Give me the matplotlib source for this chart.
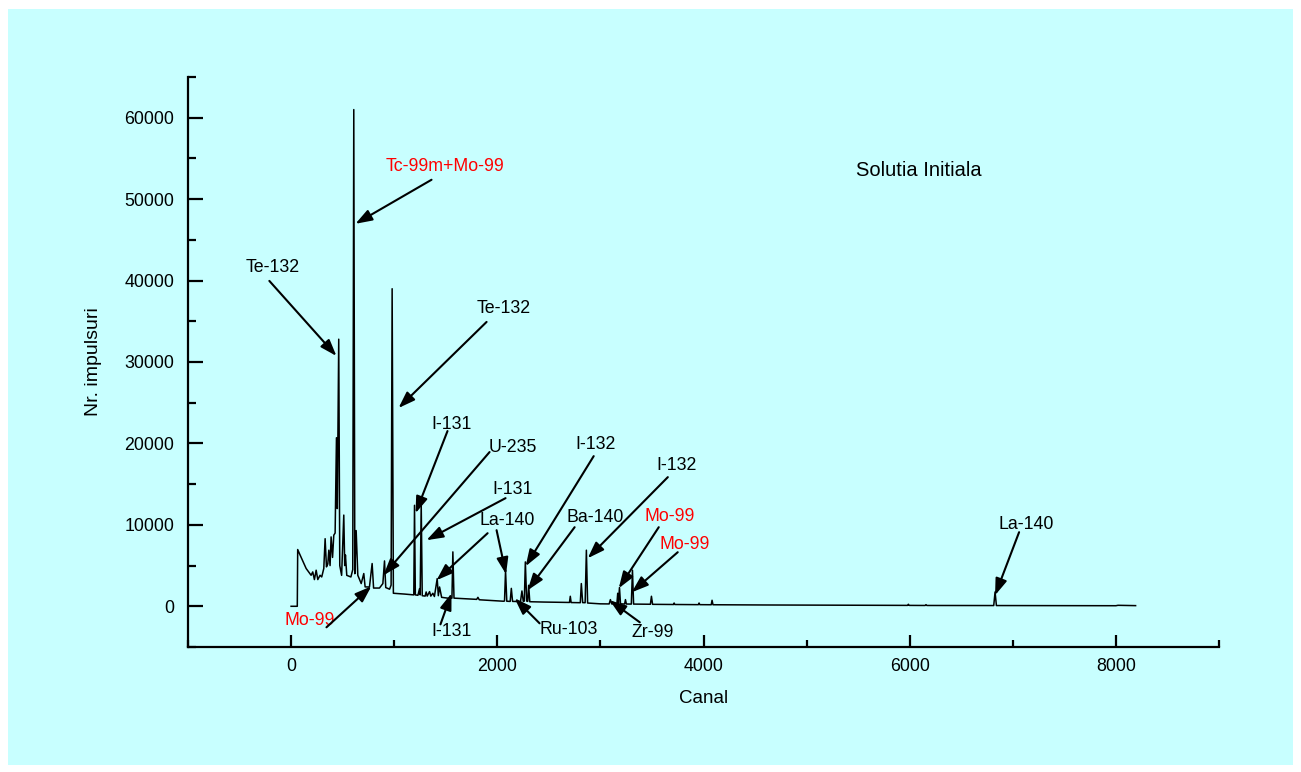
import matplotlib
matplotlib.use("Agg")
import matplotlib.pyplot as plt
from matplotlib.ticker import MultipleLocator
from matplotlib.patches import Rectangle

plt.rcParams['font.family'] = ['Liberation Sans', 'DejaVu Sans']

# ---- spectrum vertices (channel, counts) ----
canal = [0, 60, 64, 80, 103, 146, 194, 210, 226, 243, 259, 281, 297, 317,
         330, 343, 356, 366, 378, 388, 402, 414, 427, 440, 448, 462, 472,
         490, 511, 520, 527, 540, 580, 598, 608, 618, 631, 647, 680, 705,
         718, 760, 786, 800, 857, 890, 906, 918, 955, 970, 980, 992, 1040,
         1100, 1150, 1190, 1197, 1205, 1230, 1246, 1252, 1262, 1272, 1300,
         1310, 1320, 1343, 1355, 1375, 1390, 1417, 1428, 1440, 1460, 1531,
         1560, 1569, 1580, 1650, 1800, 1812, 1825, 1950, 2060, 2070, 2080,
         2092, 2125, 2136, 2148, 2225, 2239, 2252, 2262, 2272, 2285, 2295,
         2304, 2315, 2450, 2700, 2708, 2716, 2805, 2815, 2828, 2852, 2864,
         2876, 3000, 3085, 3097, 3110, 3160, 3168, 3175, 3185, 3195, 3235,
         3243, 3252, 3300, 3311, 3322, 3485, 3495, 3506, 3710, 3715, 3722,
         3950, 3957, 3964, 4075, 4083, 4092, 4600, 5400, 5980, 5987, 5995,
         6150, 6158, 6166, 6815, 6828, 6841, 7500, 8000, 8020, 8191]
impulsuri = [0, 0, 6970, 6500, 5860, 4640, 3810, 4220, 3280, 4430, 3280,
             3810, 3600, 4640, 8300, 4840, 5200, 6890, 5000, 8520, 6000,
             8730, 9000, 20700, 12000, 32800, 5000, 3800, 11200, 5000, 6300,
             3800, 3600, 4500, 61000, 4000, 9300, 3810, 2790, 4020, 2380,
             2370, 5250, 2240, 2240, 2790, 5570, 2300, 2100, 2600, 39000,
             1600, 1560, 1500, 1450, 1400, 12400, 1400, 1350, 2170, 1400,
             12600, 1300, 1250, 1760, 1250, 1800, 1250, 1600, 1200, 3400,
             1300, 2370, 1100, 980, 1000, 6680, 1000, 950, 850, 1100, 800,
             700, 620, 650, 4400, 620, 600, 2200, 600, 580, 1880, 600, 640,
             5450, 640, 600, 2580, 560, 520, 470, 1230, 460, 440, 2790, 450,
             440, 6890, 400, 300, 290, 820, 290, 300, 1600, 400, 2300, 300,
             280, 820, 280, 270, 4430, 270, 250, 1230, 240, 220, 400, 220,
             200, 400, 200, 190, 740, 190, 160, 130, 110, 250, 110, 100, 200,
             100, 90, 1760, 90, 80, 70, 120, 80]

# ---- annotations: label, text position, colour ----
ann_labels = ['Te-132', 'Tc-99m+Mo-99', 'Te-132', 'I-131', 'U-235', 'I-131',
              'La-140', 'I-132', 'Ba-140', 'I-132', 'Mo-99', 'Mo-99',
              'La-140', 'Mo-99', 'I-131', 'Ru-103', 'Zr-99']
ann_text_x = [-182, 1489, 2061, 1556, 2149, 2149, 2100, 2954, 2945, 3741,
              3673, 3818, 7129, 178, 1556, 2692, 3508]
ann_text_y = [41560, 53980, 36520, 22380, 19550, 14390, 10570, 19920, 10940,
              17340, 11070, 7623, 10080, -1721, -3074, -2828, -3197]
ann_colors = ['black', 'red', 'black', 'black', 'black', 'black', 'black',
              'black', 'black', 'black', 'red', 'red', 'black', 'red',
              'black', 'black', 'black']
# arrows (start x, start y, tip x, tip y)
arrow_start_x = [-211, 1362, 1896, 1517, 1925, 2080, 1906, 1993, 2935, 2750,
                 3654, 3566, 3750, 7061, 343, 1449, 2410, 3382]
arrow_start_y = [39960, 52380, 34920, 21520, 18940, 13280, 8976, 9345, 18440,
                 9713, 15860, 9713, 6640, 9099, -2582, -2213, -2090, -1967]
arrow_tip_x = [440, 624, 1042, 1207, 896, 1313, 1411, 2085, 2275, 2294, 2877,
               3178, 3304, 6828, 779, 1556, 2168, 3090]
arrow_tip_y = [30740, 46970, 24350, 11430, 3810, 8115, 3200, 3935, 4918,
               1967, 5900, 2213, 1721, 1352, 2459, 1598, 984, 738]

title_text = 'Solutia Initiala'

fig = plt.figure(figsize=(13.01, 7.72), dpi=100)
fig.patch.set_facecolor('white')
bg = Rectangle((8 / 1301, 1 - 765 / 772), (1293 - 8) / 1301,
               (765 - 9) / 772, transform=fig.transFigure,
               facecolor='#C8FFFF', edgecolor='none', zorder=-10)
fig.add_artist(bg)

ax = fig.add_axes([188 / 1301, 1 - 647 / 772, (1219 - 188) / 1301,
                   (647 - 77) / 772])
ax.set_zorder(1)
ax.set_facecolor('none')
ax.plot(canal, impulsuri, color='black', lw=1.1)

ax.set_xlim(-1000, 9000)
ax.set_ylim(-5000, 65000)
for s in ['top', 'right']:
    ax.spines[s].set_visible(False)
for s in ['left', 'bottom']:
    ax.spines[s].set_linewidth(1.6)

ax.xaxis.set_major_locator(MultipleLocator(2000))
ax.xaxis.set_minor_locator(MultipleLocator(1000))
ax.yaxis.set_major_locator(MultipleLocator(10000))
ax.yaxis.set_minor_locator(MultipleLocator(5000))
ax.tick_params(axis='x', which='major', direction='in', length=9, width=1.6,
               labelsize=12.8, pad=8)
ax.tick_params(axis='x', which='minor', direction='in', length=5, width=1.6)
ax.tick_params(axis='y', which='major', direction='in', length=11, width=1.6,
               labelsize=12.8, pad=10)
ax.tick_params(axis='y', which='minor', direction='in', length=6, width=1.6)

ax.set_xlabel('Canal', fontsize=13.5, labelpad=11)
ax.set_ylabel('Nr. impulsuri', fontsize=14, labelpad=16)

ax.text(6090, 53490, title_text, fontsize=14.5, ha='center', va='center')

for lab, tx, ty, c in zip(ann_labels, ann_text_x, ann_text_y, ann_colors):
    ax.text(tx, ty, lab, fontsize=12.8, color=c, ha='center', va='center')

for sx, sy, tx, ty in zip(arrow_start_x, arrow_start_y, arrow_tip_x,
                          arrow_tip_y):
    ax.annotate('', xy=(tx, ty), xytext=(sx, sy),
                arrowprops=dict(arrowstyle='-|>,head_length=1.0,head_width=0.35',
                                mutation_scale=10, lw=1.5, color='black',
                                shrinkA=0, shrinkB=0))

fig.savefig('out.png', dpi=100, facecolor=fig.get_facecolor())
